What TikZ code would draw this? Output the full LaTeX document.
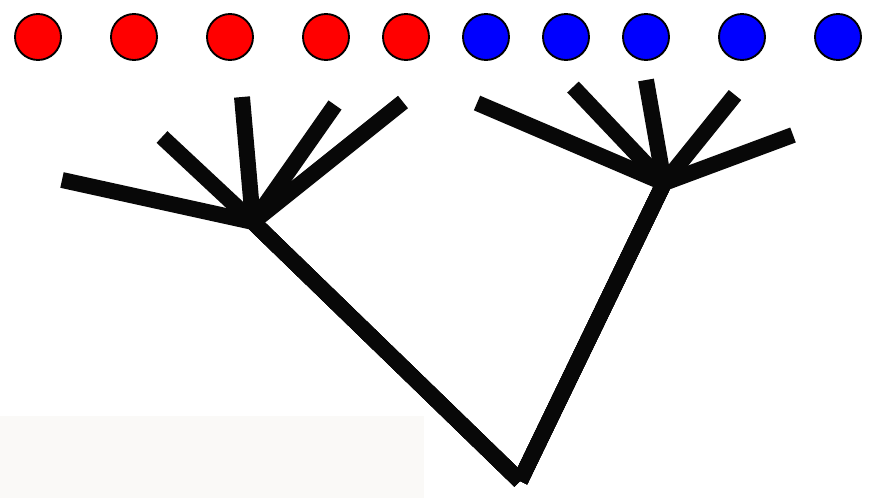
\documentclass[tikz,border=0pt]{standalone}
\usepackage{tikz}
\usetikzlibrary{positioning}
\definecolor{leafRed}{HTML}{FF0000}
\definecolor{leafBlue}{HTML}{0000FF}
\definecolor{paneGrey}{HTML}{FAF9F7}

\begin{document}
\begin{tikzpicture}[
  x=0.03cm, y=-0.03cm,
  dot/.style={circle, draw=black, line width=1.6pt, minimum size=1.38cm,
              inner sep=0pt},
  limb/.style={draw=black!97, line width=13.6pt, line cap=butt,
               line join=round},
]
\useasboundingbox (0,0) rectangle (871,498);

% The pale panel in the lower left sits under everything.
\fill[paneGrey] (0,416) rectangle (424,498);

% ================================ the leaves ================================
% Five red and five blue, in one row along the top.
\foreach \n/\cx in {1/38, 2/134, 3/230, 4/326, 5/406}
  \node[dot, fill=leafRed] (r\n) at (\cx,37) {};
\foreach \n/\cx in {1/486, 2/566, 3/646, 4/742, 5/838}
  \node[dot, fill=leafBlue] (b\n) at (\cx,37) {};

% ================================ the tree ==================================
\coordinate (root) at (520,481);
\coordinate (hubL) at (253,222);
\coordinate (hubR) at (664,183);

% Free tips of the two fans, left to right.
\foreach \n/\tx/\ty in {1/62/180, 2/162/137, 3/242/97, 4/335/105, 5/403/102}
  \coordinate (tl\n) at (\tx,\ty);
\foreach \n/\tx/\ty in {1/477/103, 2/573/87, 3/646/80, 4/735/95, 5/793/135}
  \coordinate (tr\n) at (\tx,\ty);

% Each branch runs on down to the root, so the hubs join cleanly.
\foreach \n in {1,...,5} {
  \draw[limb] (tl\n) -- (hubL) -- (root);
  \draw[limb] (tr\n) -- (hubR) -- (root);
}
\end{tikzpicture}
\end{document}
